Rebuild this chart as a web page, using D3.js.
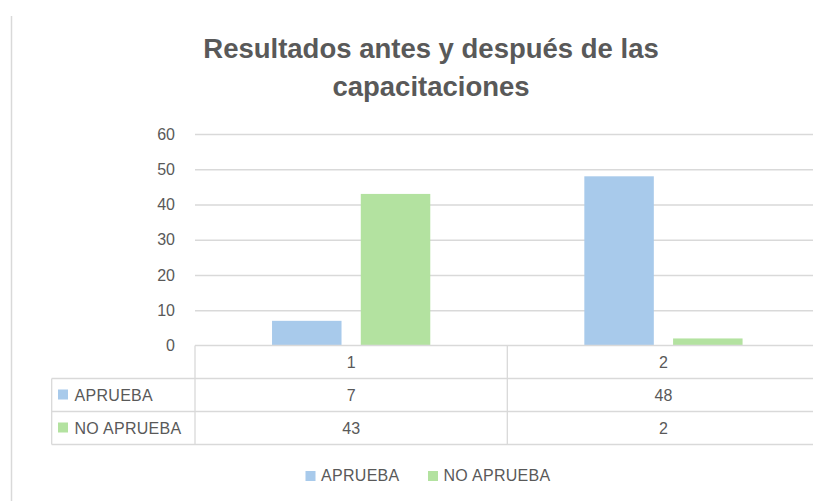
<!DOCTYPE html>
<html>
<head>
<meta charset="utf-8">
<script src="https://cdn.jsdelivr.net/npm/d3@7"></script>
<style>
  html, body { margin: 0; padding: 0; background: #ffffff; }
  svg { display: block; }
  text { font-family: "Liberation Sans", Arial, sans-serif; fill: #595959; }
</style>
</head>
<body>
<div id="chart"></div>
<script>
// ---- data ----
const categories = ["1", "2"];
const seriesNames = ["APRUEBA", "NO APRUEBA"];
const aprueba = [7, 48];
const noAprueba = [43, 2];
const yTicks = [0, 10, 20, 30, 40, 50, 60];
const titleLines = ["Resultados antes y después de las", "capacitaciones"];
const seriesColors = ["#a8caeb", "#b3e2a0"];

const seriesValues = [aprueba, noAprueba];

const W = 813, H = 501;
const svg = d3.select("#chart").append("svg").attr("width", W).attr("height", H);

const gridColor = "#d9d9d9";
const plotLeft = 195, plotRight = 819.6, plotTop = 134, plotBottom = 345.5;
const tableLeft = 51.7;
const rowH = 33;
const fs = 16;

// outer frame (left edge visible)
svg.append("line")
  .attr("x1", 11.5).attr("x2", 11.5).attr("y1", 16).attr("y2", H)
  .attr("stroke", "#d9d9d9").attr("stroke-width", 1.5);

// title
svg.append("g").selectAll("text").data(titleLines).join("text")
  .attr("x", 431).attr("y", (d, i) => 58 + i * 38)
  .attr("text-anchor", "middle")
  .attr("font-size", 27.5).attr("font-weight", "bold")
  .text(d => d);

// scales
const y = d3.scaleLinear().domain([0, 60]).range([plotBottom, plotTop]);
const x0 = d3.scaleBand().domain(categories).range([plotLeft, plotRight]).paddingInner(0).paddingOuter(0);
const x1 = d3.scaleBand().domain(seriesNames).range([0, x0.bandwidth()]).paddingInner(0.217).paddingOuter(0.868);

// gridlines
const grid = svg.append("g").attr("transform", `translate(${plotLeft},0)`)
  .call(d3.axisLeft(y).tickValues(yTicks.slice(1)).tickSize(-(plotRight - plotLeft)).tickFormat(""));
grid.select(".domain").remove();
grid.selectAll("line").attr("stroke", gridColor).attr("stroke-width", 1.3);

// y axis labels
const yAxis = svg.append("g").attr("transform", `translate(${plotLeft},0)`)
  .call(d3.axisLeft(y).tickValues(yTicks).tickSize(0).tickPadding(20));
yAxis.select(".domain").remove();
yAxis.selectAll("text").attr("font-size", fs).attr("font-family", "Liberation Sans, Arial, sans-serif").attr("fill", "#595959");

// bars
const groups = svg.append("g").selectAll("g").data(categories).join("g")
  .attr("transform", d => `translate(${x0(d)},0)`);
groups.selectAll("rect")
  .data((c, ci) => seriesNames.map((s, si) => ({ s, v: seriesValues[si][ci], color: seriesColors[si] })))
  .join("rect")
  .attr("x", d => x1(d.s))
  .attr("width", x1.bandwidth())
  .attr("y", d => y(d.v))
  .attr("height", d => y(0) - y(d.v))
  .attr("fill", d => d.color);

// data table
const table = svg.append("g");
const tl = (x1_, y1_, x2_, y2_) => table.append("line")
  .attr("x1", x1_).attr("y1", y1_).attr("x2", x2_).attr("y2", y2_)
  .attr("stroke", gridColor).attr("stroke-width", 1.3);

const tableBottom = plotBottom + (seriesNames.length + 1) * rowH;
// axis / top line
tl(plotLeft, plotBottom, W, plotBottom);
// row lines
for (let r = 1; r <= seriesNames.length + 1; r++) {
  tl(tableLeft, plotBottom + r * rowH, W, plotBottom + r * rowH);
}
// vertical lines
tl(tableLeft, plotBottom + rowH, tableLeft, tableBottom);
categories.forEach(c => tl(x0(c), plotBottom, x0(c), tableBottom));
const lastEdge = x0(categories[categories.length - 1]) + x0.bandwidth();
tl(lastEdge, plotBottom, lastEdge, tableBottom);

// category labels
table.selectAll("text.cat").data(categories).join("text").attr("class", "cat")
  .attr("x", d => x0(d) + x0.bandwidth() / 2)
  .attr("y", plotBottom + rowH / 2 + 5.8)
  .attr("text-anchor", "middle").attr("font-size", fs)
  .text(d => d);

// series rows
seriesNames.forEach((s, si) => {
  const cy = plotBottom + (si + 1) * rowH + rowH / 2;
  table.append("rect").attr("x", 58).attr("y", cy - 5.5).attr("width", 10).attr("height", 10)
    .attr("fill", seriesColors[si]);
  table.append("text").attr("x", 74.5).attr("y", cy + 5.8)
    .attr("font-size", fs).attr("letter-spacing", 0.3).text(s);
  table.selectAll(null).data(categories).join("text")
    .attr("x", d => x0(d) + x0.bandwidth() / 2)
    .attr("y", cy + 5.8)
    .attr("text-anchor", "middle").attr("font-size", fs)
    .text((d, ci) => seriesValues[si][ci]);
});

// legend
const legend = svg.append("g");
const legendItems = [{ name: seriesNames[0], x: 305.5 }, { name: seriesNames[1], x: 428 }];
legendItems.forEach((it, i) => {
  legend.append("rect").attr("x", it.x).attr("y", 471).attr("width", 10).attr("height", 10).attr("fill", seriesColors[i]);
  legend.append("text").attr("x", it.x + 15.5).attr("y", 480.8)
    .attr("font-size", fs).attr("letter-spacing", 0.3).text(it.name);
});
</script>
</body>
</html>
